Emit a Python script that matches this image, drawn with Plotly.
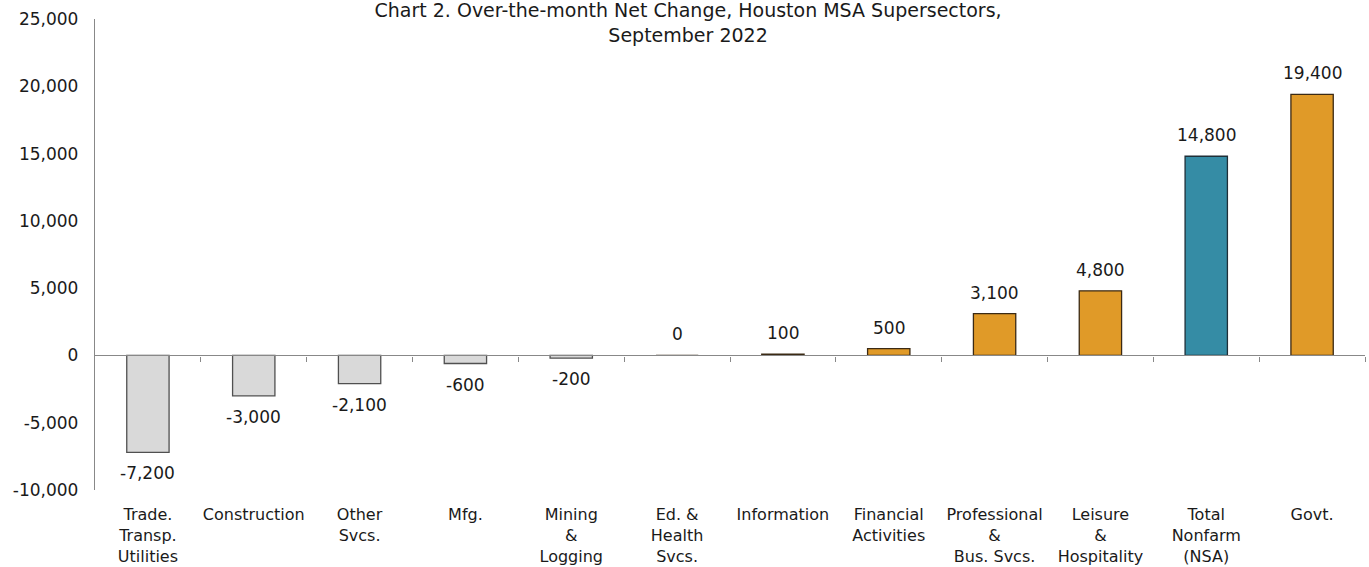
import plotly.graph_objects as go

# Supersector categories (multi-line axis labels)
categories = [
    "Trade.<br>Transp.<br>Utilities",
    "Construction",
    "Other<br>Svcs.",
    "Mfg.",
    "Mining<br>&<br>Logging",
    "Ed. &<br>Health<br>Svcs.",
    "Information",
    "Financial<br>Activities",
    "Professional<br>&<br>Bus. Svcs.",
    "Leisure<br>&<br>Hospitality",
    "Total<br>Nonfarm<br>(NSA)",
    "Govt.",
]

# Over-the-month net change in jobs
net_change = [-7200, -3000, -2100, -600, -200, 0, 100, 500, 3100, 4800, 14800, 19400]

# Axis ticks
y_ticks = [-10000, -5000, 0, 5000, 10000, 15000, 20000, 25000]
y_tick_text = [f"{v:,}" for v in y_ticks]

GREY = "#D9D9D9"
ORANGE = "#E09A28"
TEAL = "#358CA5"

fill_colors = []
edge_colors = []
for cat, v in zip(categories, net_change):
    if "Nonfarm" in cat:
        fill_colors.append(TEAL)
        edge_colors.append("#1f2f38")
    elif v < 0:
        fill_colors.append(GREY)
        edge_colors.append("#505050")
    else:
        fill_colors.append(ORANGE)
        edge_colors.append("#3b2a14")

FONT = "Century Gothic, DejaVu Sans, sans-serif"
TEXT = "#1a1a1a"

fig = go.Figure()
fig.add_trace(go.Bar(
    x=categories,
    y=net_change,
    marker=dict(color=fill_colors, line=dict(color=edge_colors, width=1.3)),
    width=0.4,
    hoverinfo="x+y",
    showlegend=False,
))

# Invisible trace that hosts the axis drawn along the zero line
fig.add_trace(go.Scatter(
    x=[0], y=[None], xaxis="x2", yaxis="y",
    mode="markers", showlegend=False, hoverinfo="skip",
))

# Value labels above positive bars, below negative ones
for cat, v in zip(categories, net_change):
    fig.add_annotation(
        x=cat, y=v, text=f"{v:,}", showarrow=False,
        xref="x", yref="y", yanchor="middle",
        yshift=-21 if v < 0 else 21,
        font=dict(family=FONT, size=17, color=TEXT),
    )

n = len(categories)
fig.update_layout(
    width=1369, height=567,
    margin=dict(l=95, r=4, t=19, b=77, autoexpand=False),
    plot_bgcolor="white", paper_bgcolor="white",
    title=dict(
        text="Chart 2. Over-the-month Net Change, Houston MSA Supersectors,<br>September 2022",
        xref="container", yref="container",
        x=0.5026, y=0.970, xanchor="center", yanchor="middle",
        font=dict(family=FONT, size=19, color=TEXT),
    ),
    xaxis=dict(
        type="category", range=[-0.5, n - 0.5], automargin=False,
        showline=False, ticks="", showgrid=False, zeroline=False,
        tickfont=dict(family=FONT, size=16, color=TEXT),
        ticklabelstandoff=13,
    ),
    xaxis2=dict(
        overlaying="x", anchor="free", position=10000 / 35000,
        range=[-0.5, n - 0.5], automargin=False,
        tickvals=[i + 0.5 for i in range(n)],
        ticks="outside", ticklen=5, tickcolor="#888888", tickwidth=1,
        showticklabels=False, showgrid=False, zeroline=False,
        showline=True, linecolor="#888888", linewidth=1.3,
    ),
    yaxis=dict(
        range=[-10000, 25000], tickvals=y_ticks, ticktext=y_tick_text,
        automargin=False,
        showgrid=False, zeroline=False, ticks="",
        showline=True, linecolor="#888888", linewidth=1.3,
        tickfont=dict(family=FONT, size=17, color=TEXT),
        ticklabelstandoff=12,
    ),
)

fig.write_html("out.html")
